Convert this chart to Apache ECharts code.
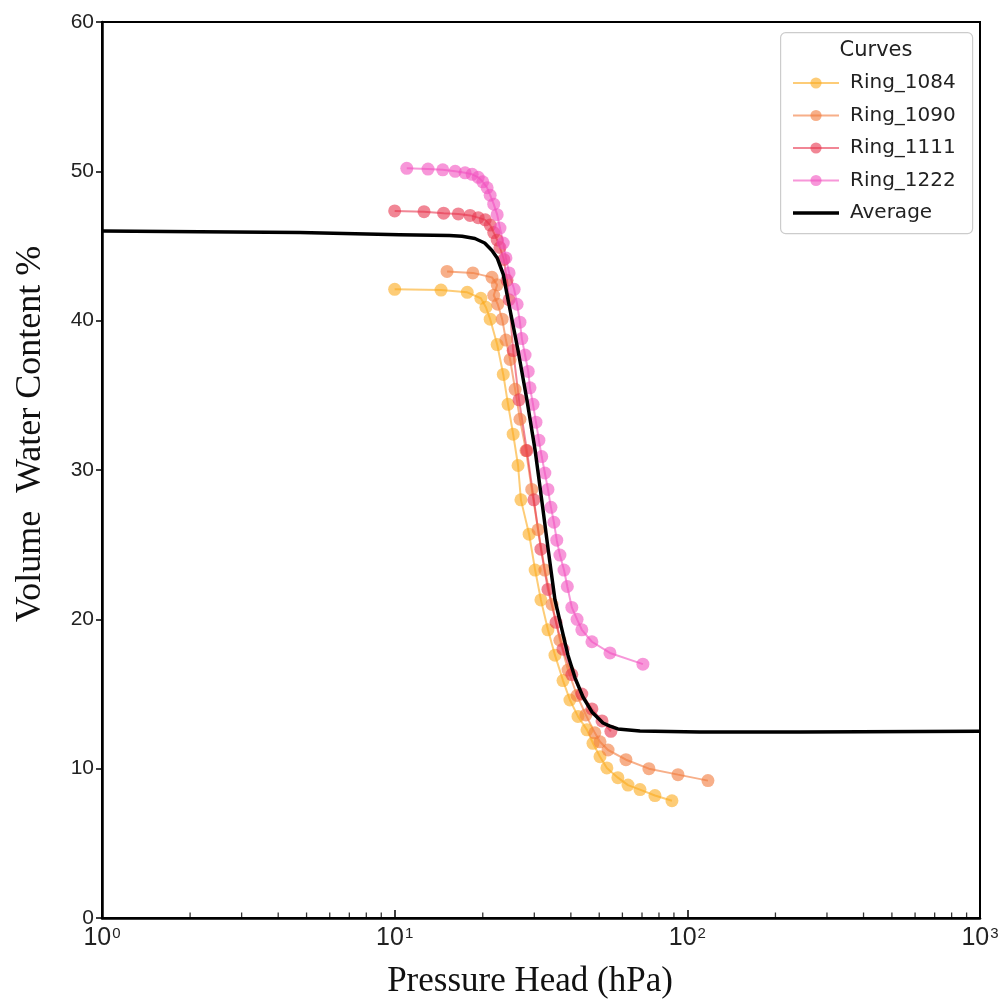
<!DOCTYPE html>
<html>
<head>
<meta charset="utf-8">
<script src="https://cdn.jsdelivr.net/npm/echarts@6/dist/echarts.min.js"></script>
<style>
  html, body { margin: 0; padding: 0; background: #fff; }
  #chart { width: 1005px; height: 1002px; }
</style>
</head>
<body>
<div id="chart"></div>
<script>
// pressure head (hPa), volume water content (%)
let ring1084 = [
    [10.0, 42.1], [14.4, 42.05], [17.7, 41.9], [19.7, 41.5], [20.5, 40.9], [21.2, 40.1],
    [22.4, 38.4], [23.5, 36.4], [24.4, 34.4], [25.4, 32.4], [26.4, 30.3], [27.0, 28.0],
    [28.8, 25.7], [30.2, 23.3], [31.6, 21.3], [33.4, 19.3], [35.3, 17.6], [37.6, 15.9],
    [39.7, 14.6], [42.3, 13.5], [45.4, 12.6], [47.6, 11.7], [50.3, 10.8], [53.1, 10.05],
    [57.9, 9.4], [62.7, 8.9], [68.9, 8.6], [77.5, 8.2], [88.6, 7.85]
];
let ring1090 = [
    [15.1, 43.3], [18.5, 43.2], [21.5, 42.9], [22.4, 42.4], [21.8, 41.7], [22.5, 41.1],
    [23.3, 40.1], [24.0, 38.7], [24.8, 37.4], [25.8, 35.4], [26.8, 33.4], [28.1, 31.3],
    [29.4, 28.7], [30.9, 26.0], [32.6, 23.3], [34.5, 21.0], [36.7, 18.6], [39.1, 16.6],
    [42.0, 14.9], [45.0, 13.6], [48.3, 12.4], [50.3, 11.8], [53.6, 11.25], [61.7, 10.6],
    [73.9, 10.0], [92.9, 9.6], [117.6, 9.2]
];
let ring1111 = [
    [10.0, 47.35], [12.6, 47.3], [14.7, 47.2], [16.5, 47.15], [18.1, 47.05], [19.3, 46.9],
    [20.4, 46.75], [21.2, 46.4], [21.8, 45.9], [22.4, 45.4], [22.9, 44.9], [23.6, 44.1],
    [24.2, 42.7], [24.6, 41.4], [25.4, 38.0], [26.6, 34.7], [28.3, 31.3], [29.9, 28.0],
    [31.6, 24.7], [33.4, 22.0], [35.6, 19.8], [37.6, 18.0], [40.3, 16.3], [43.6, 15.0],
    [47.2, 14.0], [51.1, 13.2], [54.8, 12.5]
];
let ring1222 = [
    [11.0, 50.2], [13.0, 50.15], [14.6, 50.1], [16.1, 50.0], [17.4, 49.9], [18.4, 49.8],
    [19.3, 49.6], [20.0, 49.3], [20.7, 48.9], [21.2, 48.4], [21.8, 47.8], [22.4, 47.1],
    [22.9, 46.2], [23.5, 45.2], [24.0, 44.2], [24.6, 43.2], [25.6, 42.1], [26.2, 41.1],
    [26.8, 39.9], [27.2, 38.8], [27.9, 37.7], [28.6, 36.6], [29.0, 35.5], [29.7, 34.4],
    [30.4, 33.2], [31.1, 32.0], [31.8, 30.9], [32.6, 29.8], [33.4, 28.7], [34.2, 27.5],
    [35.0, 26.5], [35.8, 25.3], [36.7, 24.3], [37.9, 23.3], [38.9, 22.2], [40.3, 20.8],
    [42.0, 20.0], [43.6, 19.3], [47.2, 18.5], [54.4, 17.75], [70.5, 17.0]
];
let average = [
    [1, 46.0], [2.16, 45.95], [4.75, 45.9], [10.4, 45.75], [15.4, 45.7], [17.0, 45.65],
    [18.8, 45.5], [20.3, 45.2], [21.5, 44.7], [22.4, 44.2], [23.5, 43.1], [24.4, 41.4],
    [26.4, 38.0], [28.3, 34.7], [30.2, 31.3], [31.8, 28.0], [33.5, 24.6], [35.3, 21.3],
    [37.3, 19.3], [39.1, 17.6], [41.3, 16.1], [44.0, 14.8], [47.2, 13.8], [51.5, 13.06],
    [54.4, 12.85], [57.9, 12.66], [68.9, 12.52], [110, 12.45], [243, 12.45], [1000, 12.5]
];

let names = ['Ring_1084', 'Ring_1090', 'Ring_1111', 'Ring_1222', 'Average'];
let colors = ['#fbaa1c', '#f27a3a', '#e8364f', '#f152c0', '#000000'];

// minor tick positions of the log axis (2..9 x 10^k)
let minorTicks = [];
for (let k = 0; k < 3; k++) {
    for (let m = 2; m < 10; m++) minorTicks.push([m * Math.pow(10, k), 0]);
}

let numFont = 'Liberation Sans';
let serifFont = 'Liberation Serif';

function ringSeries(name, data, color) {
    return {
        name: name,
        type: 'line',
        data: data,
        symbol: 'circle',
        symbolSize: 13,
        showSymbol: true,
        lineStyle: { color: color, width: 2, opacity: 0.6 },
        itemStyle: { color: color, opacity: 0.6, borderWidth: 0 },
        emphasis: { disabled: true },
        z: 2
    };
}

let legendData = names.map(function (n) { return { name: n }; });
// plain line icon for the average curve
legendData[4].icon = 'path://M0,0 M0,5.25 L46,5.25 L46,8.75 L0,8.75 Z M46,14';

let chart = echarts.init(document.getElementById('chart'));
let option = {
    animation: false,
    grid: {
        left: 102, top: 22, width: 878, height: 896,
        show: true, borderColor: '#000', borderWidth: 2, backgroundColor: 'transparent'
    },
    xAxis: {
        type: 'log',
        logBase: 10,
        min: 1,
        max: 1000,
        axisLine: { lineStyle: { color: '#000', width: 2.5 } },
        axisTick: { inside: true, length: 8, lineStyle: { color: '#000', width: 1.5 } },
        splitLine: { show: false },
        axisLabel: {
            margin: 8,
            formatter: function (v) {
                return '{b|10}{s|' + Math.round(Math.log10(v)) + '}';
            },
            rich: {
                b: { fontSize: 25, fontFamily: numFont, color: '#222', verticalAlign: 'bottom' },
                s: { fontSize: 15, fontFamily: numFont, color: '#222', verticalAlign: 'top', padding: [0, 0, 10, 1] }
            }
        }
    },
    yAxis: {
        type: 'value',
        min: 0,
        max: 60,
        interval: 10,
        axisLine: { lineStyle: { color: '#000', width: 2.5 } },
        axisTick: { inside: false, length: 6, lineStyle: { color: '#000', width: 1.5 } },
        splitLine: { show: false },
        axisLabel: { fontSize: 21, fontFamily: numFont, color: '#222', margin: 8 }
    },
    legend: {
        data: legendData,
        orient: 'vertical',
        left: 787,
        top: 68,
        itemWidth: 46,
        itemHeight: 14,
        itemGap: 12.5,
        textStyle: { fontSize: 20, lineHeight: 20, fontFamily: 'DejaVu Sans', color: '#222', padding: [0, 0, 0, 6] }
    },
    graphic: [
        {
            type: 'rect', left: 780, top: 32, z: 0,
            shape: { width: 192, height: 201, r: 5 },
            style: { fill: 'rgba(255,255,255,0.8)', stroke: '#cccccc', lineWidth: 1.2 }
        },
        {
            type: 'text', x: 876, y: 51, z: 10,
            style: { text: 'Curves', fontSize: 21, fontFamily: 'DejaVu Sans', fill: '#222', align: 'center', verticalAlign: 'middle' }
        },
        {
            type: 'text', x: 530, y: 982, z: 10,
            style: { text: 'Pressure Head (hPa)', fontSize: 35, fontFamily: serifFont, fill: '#111', align: 'center', verticalAlign: 'middle' }
        },
        {
            type: 'text', x: 31, y: 434, rotation: Math.PI / 2, z: 10,
            style: { text: 'Volume  Water Content %', fontSize: 36, fontFamily: serifFont, fill: '#111', align: 'center', verticalAlign: 'middle' }
        }
    ],
    series: [
        ringSeries(names[0], ring1084, colors[0]),
        ringSeries(names[1], ring1090, colors[1]),
        ringSeries(names[2], ring1111, colors[2]),
        ringSeries(names[3], ring1222, colors[3]),
        {
            name: names[4],
            type: 'line',
            data: average,
            symbol: 'none',
            lineStyle: { color: colors[4], width: 3.5, join: 'round' },
            itemStyle: { color: colors[4] },
            emphasis: { disabled: true },
            z: 3
        },
        {
            name: 'minor',
            type: 'scatter',
            data: minorTicks,
            symbol: 'rect',
            symbolSize: [1.3, 5],
            symbolOffset: [0, -3],
            itemStyle: { color: '#000' },
            silent: true,
            clip: false,
            z: 4
        }
    ]
};
chart.setOption(option);
</script>
</body>
</html>
